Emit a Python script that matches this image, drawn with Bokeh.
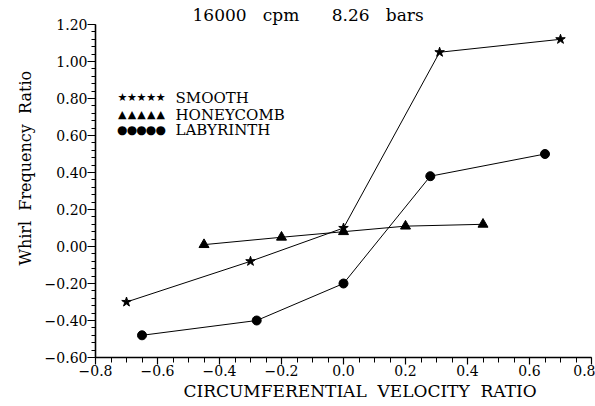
from bokeh.plotting import figure
from bokeh.models import FixedTicker, Label, Range1d, Title
from bokeh.embed import file_html
from bokeh.resources import INLINE

# Whirl frequency ratio vs circumferential velocity ratio, 16000 cpm, 8.26 bars
smooth_x = [-0.70, -0.30, 0.00, 0.31, 0.70]
smooth_y = [-0.30, -0.08, 0.10, 1.05, 1.12]

honey_x = [-0.45, -0.20, 0.00, 0.20, 0.45]
honey_y = [0.01, 0.05, 0.08, 0.11, 0.12]

laby_x = [-0.65, -0.28, 0.00, 0.28, 0.65]
laby_y = [-0.48, -0.40, -0.20, 0.38, 0.50]

x_ticks = [-0.8, -0.6, -0.4, -0.2, 0.0, 0.2, 0.4, 0.6, 0.8]
y_ticks = [-0.6, -0.4, -0.2, 0.0, 0.2, 0.4, 0.6, 0.8, 1.0, 1.2]

series_names = ["SMOOTH", "HONEYCOMB", "LABYRINTH"]
series_symbols = ["\u2605", "\u25b2", "\u25cf"]

SERIF = "DejaVu Serif"
NB = "\u00a0"


def fmt(v, digits):
    s = f"{abs(v):.{digits}f}"
    return ("\u2212" + s) if v < -1e-9 else s


p = figure(width=595, height=406, output_backend="svg", toolbar_location=None,
           x_range=Range1d(-0.8, 0.8), y_range=Range1d(-0.6, 1.2),
           min_border_left=95, min_border_right=4, min_border_top=24, min_border_bottom=49)
p.outline_line_color = None
p.grid.visible = False
p.background_fill_color = "white"
p.border_fill_color = "white"

x_minor = [round(-0.8 + 0.05 * i, 3) for i in range(33)]
y_minor = [round(-0.6 + 0.04 * i, 3) for i in range(46)]
p.xaxis.ticker = FixedTicker(ticks=x_ticks, minor_ticks=x_minor)
p.yaxis.ticker = FixedTicker(ticks=y_ticks, minor_ticks=y_minor)
p.xaxis.major_label_overrides = {v: fmt(v, 1) for v in x_ticks}
p.yaxis.major_label_overrides = {v: fmt(v, 2) for v in y_ticks}

for ax in (p.xaxis, p.yaxis):
    ax.axis_line_width = 1.6
    ax.axis_line_color = "black"
    ax.major_tick_line_color = "black"
    ax.minor_tick_line_color = "black"
    ax.major_tick_line_width = 1.2
    ax.minor_tick_line_width = 1.0
    ax.major_tick_in = 0
    ax.minor_tick_in = 0
    ax.major_label_text_font = SERIF
    ax.major_label_text_font_size = "14px"
    ax.major_label_text_color = "black"

p.xaxis.major_tick_out = 7
p.xaxis.minor_tick_out = 5
p.xaxis.major_label_standoff = 0
p.yaxis.major_tick_out = 8
p.yaxis.minor_tick_out = 4
p.yaxis.major_label_standoff = 0

# axis titles and chart title
p.add_layout(Title(text="CIRCUMFERENTIAL" + NB * 2 + "VELOCITY" + NB * 2 + "RATIO",
                   align="left", offset=88, standoff=0, text_font=SERIF,
                   text_font_style="normal", text_font_size="17px", text_color="black"), "below")
p.add_layout(Title(text="Whirl" + NB * 2 + "Frequency" + NB * 2 + "Ratio",
                   align="left", offset=92, standoff=14, text_font=SERIF,
                   text_font_style="normal", text_font_size="16px", text_color="black"), "left")
p.add_layout(Title(text="16000" + NB * 3 + "cpm" + NB * 6 + "8.26" + NB * 3 + "bars",
                   align="left", offset=97, standoff=0, text_font=SERIF,
                   text_font_style="normal", text_font_size="17px", text_color="black"), "above")

# data series
p.line(smooth_x, smooth_y, line_color="black", line_width=1)
p.scatter(smooth_x, smooth_y, marker="star", size=10, color="black")
p.line(honey_x, honey_y, line_color="black", line_width=1)
p.scatter(honey_x, honey_y, marker="triangle", size=10, color="black")
p.line(laby_x, laby_y, line_color="black", line_width=1)
p.scatter(laby_x, laby_y, marker="circle", size=9, color="black")

# legend: a row of five symbols followed by the series name
legend_x = -0.729
legend_y = [0.805, 0.713, 0.632]
symbol_sizes = ["11px", "11px", "12px"]
for sym, sz, name, ly in zip(series_symbols, symbol_sizes, series_names, legend_y):
    for i in range(5):
        p.add_layout(Label(x=legend_x, y=ly, x_offset=4.8 + 9.6 * i, text=sym,
                           text_font="DejaVu Sans", text_font_size=sz, text_align="center",
                           text_baseline="middle", text_color="black"))
    p.add_layout(Label(x=legend_x, y=ly, x_offset=58, text=name, text_font=SERIF,
                       text_font_size="15px", text_baseline="middle", text_color="black"))

open("out.html", "w").write(file_html(p, INLINE))
